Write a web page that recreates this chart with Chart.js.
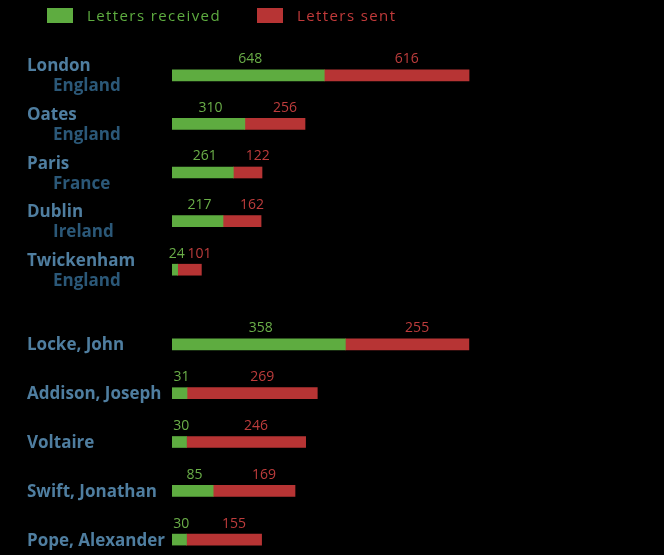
<!DOCTYPE html>
<html>
<head>
<meta charset="utf-8">
<script src="https://cdn.jsdelivr.net/npm/chart.js@4"></script>
<style>
html, body { margin: 0; padding: 0; background: #000; overflow: hidden; }
#top { position: absolute; left: 0; top: 0; width: 664px; height: 300px; }
#bottom { position: absolute; left: 0; top: 300px; width: 664px; height: 270px; }
</style>
</head>
<body>
<div id="top"><canvas id="chartPlaces"></canvas></div>
<div id="bottom"><canvas id="chartPeople"></canvas></div>
<script>
var places = ['London', 'Oates', 'Paris', 'Dublin', 'Twickenham'];
var countries = ['England', 'England', 'France', 'Ireland', 'England'];
var placesReceived = [648, 310, 261, 217, 24];
var placesSent = [616, 256, 122, 162, 101];

var people = ['Locke, John', 'Addison, Joseph', 'Voltaire', 'Swift, Jonathan', 'Pope, Alexander'];
var peopleReceived = [358, 31, 30, 85, 30];
var peopleSent = [255, 269, 246, 169, 155];

var seriesNames = ['Letters received', 'Letters sent'];

// the two groups use their own scale
var placesMax = 2034;
var peopleMax = 987;

var GREEN = '#5eac40';
var RED = '#b73434';
var FONT = '"Open Sans", sans-serif';

var valueLabels = {
    id: 'valueLabels',
    afterDatasetsDraw: function(chart) {
        var ctx = chart.ctx;
        ctx.save();
        ctx.font = '14px ' + FONT;
        ctx.textAlign = 'center';
        ctx.textBaseline = 'middle';
        chart.data.datasets.forEach(function(ds, di) {
            var meta = chart.getDatasetMeta(di);
            meta.data.forEach(function(bar, i) {
                var cx = (bar.x + bar.base) / 2 + (di === 0 ? 2 : 10);
                ctx.fillStyle = di === 0 ? '#6aae48' : '#bd3c3c';
                ctx.fillText(ds.data[i], cx, bar.y - 16);
            });
        });
        ctx.restore();
    }
};

var categoryLabels = {
    id: 'categoryLabels',
    afterDraw: function(chart, args, opts) {
        var ctx = chart.ctx;
        var y = chart.scales.y;
        ctx.save();
        ctx.textAlign = 'left';
        ctx.textBaseline = 'alphabetic';
        opts.names.forEach(function(name, i) {
            var py = y.getPixelForValue(i);
            ctx.font = 'bold 17px ' + FONT;
            ctx.fillStyle = '#4f7ea0';
            if (opts.sub) {
                ctx.fillText(name, 27, py - 4);
                ctx.fillStyle = '#2b5878';
                ctx.fillText(opts.sub[i], 53, py + 16);
            } else {
                ctx.fillText(name, 27, py + 6);
            }
        });
        ctx.restore();
    }
};

var topLegend = {
    id: 'topLegend',
    afterDraw: function(chart) {
        var ctx = chart.ctx;
        ctx.save();
        ctx.font = '15px ' + FONT;
        ctx.letterSpacing = '1.4px';
        ctx.textBaseline = 'middle';
        ctx.fillStyle = GREEN;
        ctx.fillRect(47, 8, 26, 15);
        ctx.fillText(seriesNames[0], 87, 17);
        ctx.fillStyle = RED;
        ctx.fillRect(257, 8, 26, 15);
        ctx.fillStyle = '#c03a3a';
        ctx.fillText(seriesNames[1], 297, 17);
        ctx.restore();
    }
};

function renderChart(canvasId, labels, received, sent, max, sub, padTop, padBottom, extra) {
    var ctx = document.getElementById(canvasId).getContext('2d');
    return new Chart(ctx, {
        type: 'bar',
        data: {
            labels: labels,
            datasets: [
                { label: seriesNames[0], data: received, backgroundColor: GREEN, barThickness: 11 },
                { label: seriesNames[1], data: sent, backgroundColor: RED, barThickness: 11 }
            ]
        },
        options: {
            indexAxis: 'y',
            responsive: true,
            maintainAspectRatio: false,
            animation: false,
            layout: { padding: { left: 172, right: 14, top: padTop, bottom: padBottom } },
            scales: {
                x: { stacked: true, display: false, min: 0, max: max },
                y: { stacked: true, display: false }
            },
            plugins: {
                legend: { display: false },
                tooltip: { enabled: false },
                categoryLabels: { names: labels, sub: sub }
            }
        },
        plugins: [valueLabels, categoryLabels].concat(extra)
    });
}

renderChart('chartPlaces', places, placesReceived, placesSent, placesMax, countries, 51, 6, [topLegend]);
renderChart('chartPeople', people, peopleReceived, peopleSent, peopleMax, null, 20, 6, []);
</script>
</body>
</html>
